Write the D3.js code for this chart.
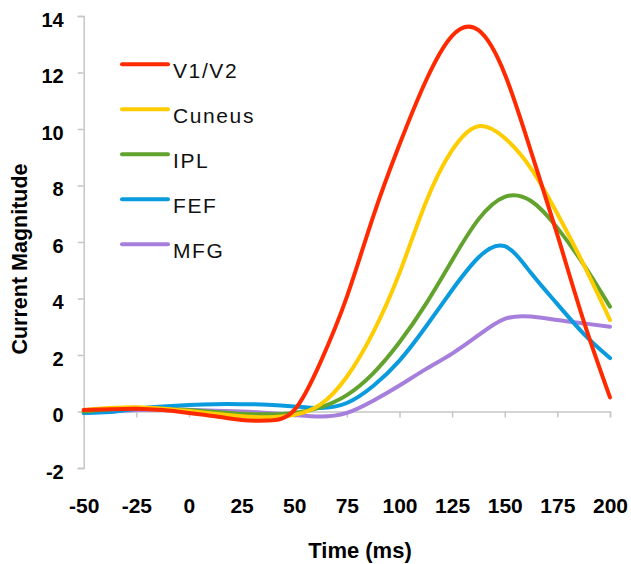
<!DOCTYPE html>
<html>
<head>
<meta charset="utf-8">
<title>Current Magnitude</title>
<style>
  body { margin: 0; background: #fff; }
  svg text { font-family: "Liberation Sans", Arial, Helvetica, sans-serif; }
</style>
</head>
<body>
<script src="https://d3js.org/d3.v7.min.js"></script>
<script>
// time points (ms)
var times = [-50, -37.5, -25, -12.5, 0, 12.5, 25, 37.5, 50, 62.5, 75, 87.5, 100, 112.5, 125, 137.5, 150, 162.5, 175, 187.5, 200];

// region series
var v1v2   = [0.05, 0.08, 0.1, 0.05, -0.05, -0.17, -0.3, -0.32, 0.05, 1.75, 4.06, 6.9, 9.45, 11.7, 13.3, 13.5, 11.95, 9.2, 6.25, 3.2, 0.5];
var cuneus = [0.05, 0.12, 0.15, 0.1, 0.02, -0.08, -0.17, -0.2, -0.12, 0.25, 1.23, 2.8, 4.9, 7.4, 9.25, 10.1, 9.68, 8.6, 7.0, 5.2, 3.24];
var ipl    = [0.0, 0.08, 0.12, 0.1, 0.05, -0.02, -0.08, -0.1, -0.05, 0.15, 0.58, 1.35, 2.45, 3.8, 5.35, 6.8, 7.6, 7.45, 6.5, 5.2, 3.71];
var fef    = [-0.05, -0.02, 0.1, 0.18, 0.23, 0.26, 0.26, 0.24, 0.18, 0.12, 0.3, 0.9, 1.8, 3.0, 4.3, 5.45, 5.85, 4.9, 3.8, 2.75, 1.89];
var mfg    = [-0.05, 0.0, 0.05, 0.07, 0.06, 0.03, 0.0, -0.05, -0.12, -0.18, -0.05, 0.38, 0.92, 1.5, 2.05, 2.7, 3.28, 3.36, 3.24, 3.12, 3.0];

var names  = ["V1/V2", "Cuneus", "IPL", "FEF", "MFG"];
var colors = ["#ff2a00", "#ffcc00", "#62a32e", "#0a9ade", "#a57fdb"];
var xTicks = [-50, -25, 0, 25, 50, 75, 100, 125, 150, 175, 200];
var yTicks = [-2, 0, 2, 4, 6, 8, 10, 12, 14];

var series = [v1v2, cuneus, ipl, fef, mfg];

var width = 631, height = 564;

var svg = d3.select("body").append("svg")
  .attr("width", width)
  .attr("height", height);

var x = d3.scaleLinear().domain([-50, 200]).range([83.7, 610]);
var y = d3.scaleLinear().domain([-2, 14]).range([468, 16]);

var axisColor = "#c6c6c6";
var plain = function(d) { return String(d); }; // plain hyphen for negatives

// y axis
var yAxis = svg.append("g").attr("transform", "translate(" + x(-50) + ",0)")
  .call(d3.axisLeft(y).tickValues(yTicks).tickSize(6).tickFormat(plain));
yAxis.select(".domain").attr("stroke", axisColor).attr("stroke-width", 1.5);
yAxis.selectAll(".tick line").attr("stroke", axisColor).attr("stroke-width", 1.5);
yAxis.selectAll(".tick text")
  .attr("font-size", 20).attr("font-weight", "bold").attr("fill", "#000")
  .attr("x", -20).attr("dy", "0.5em");

// x axis sits at zero, labels down low
var xAxis = svg.append("g").attr("transform", "translate(0," + y(0) + ")")
  .call(d3.axisBottom(x).tickValues(xTicks).tickSize(6).tickFormat(plain));
xAxis.select(".domain").attr("stroke", axisColor).attr("stroke-width", 1.5);
xAxis.selectAll(".tick line").attr("stroke", axisColor).attr("stroke-width", 1.5);
xAxis.selectAll(".tick text")
  .attr("font-size", 21).attr("font-weight", "bold").attr("fill", "#000")
  .attr("y", 513 - y(0)).attr("dy", 0);

// axis titles
svg.append("text")
  .attr("x", 360).attr("y", 558)
  .attr("text-anchor", "middle")
  .attr("font-size", 22).attr("font-weight", "bold")
  .text("Time (ms)");

svg.append("text")
  .attr("transform", "translate(27,259) rotate(-90)")
  .attr("text-anchor", "middle")
  .attr("font-size", 21.5).attr("font-weight", "bold")
  .text("Current Magnitude");

// lines, smoothed
var line = d3.line()
  .x(function(d, i) { return x(times[i]); })
  .y(function(d) { return y(d); })
  .curve(d3.curveNatural);

// draw MFG first so red ends on top
for (var k = series.length - 1; k >= 0; k--) {
  svg.append("path")
    .datum(series[k])
    .attr("d", line)
    .attr("fill", "none")
    .attr("stroke", colors[k])
    .attr("stroke-width", 4)
    .attr("stroke-linecap", "round");
}

// legend
var legend = svg.append("g");
names.forEach(function(n, i) {
  var ly = 64.3 + i * 45;
  legend.append("line")
    .attr("x1", 122).attr("x2", 168)
    .attr("y1", ly).attr("y2", ly)
    .attr("stroke", colors[i]).attr("stroke-width", 4)
    .attr("stroke-linecap", "round");
  legend.append("text")
    .attr("x", 173).attr("y", ly + 14)
    .attr("font-size", 21).attr("letter-spacing", 1.6)
    .attr("fill", "#111")
    .text(n);
});
</script>
</body>
</html>
